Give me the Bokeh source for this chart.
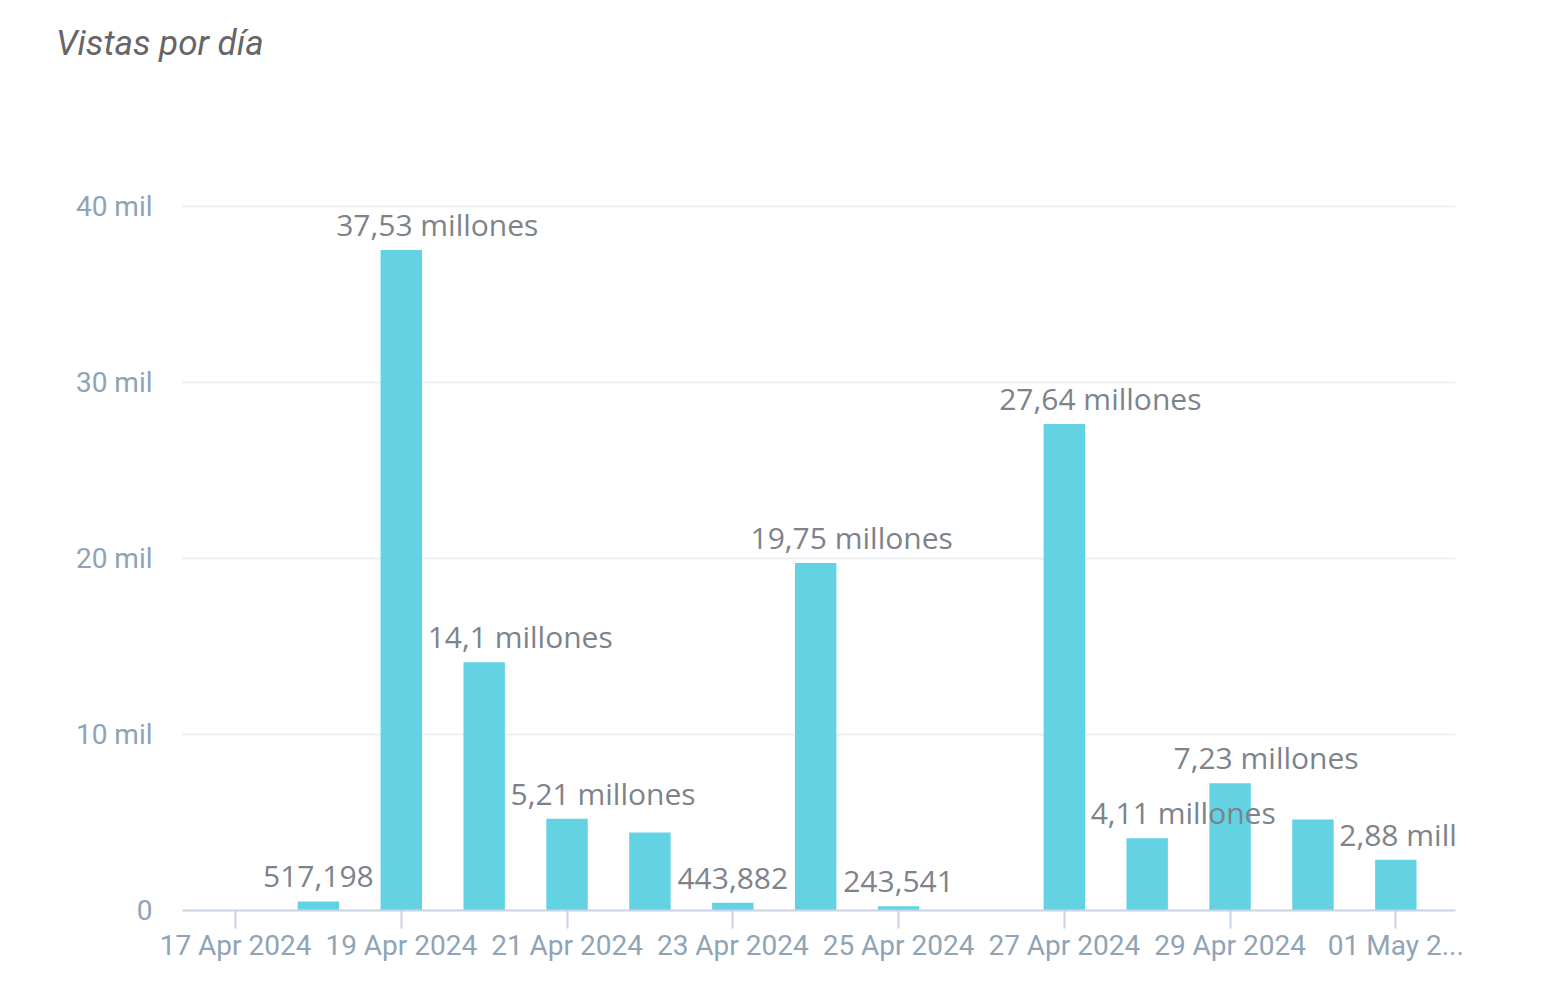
from bokeh.plotting import figure
from bokeh.layouts import column
from bokeh.models import ColumnDataSource, LabelSet, Range1d, FixedTicker, Div
from bokeh.core.properties import value
from bokeh.embed import file_html
from bokeh.resources import INLINE

# ---- data ----
dates = ["17 Apr 2024", "18 Apr 2024", "19 Apr 2024", "20 Apr 2024", "21 Apr 2024",
         "22 Apr 2024", "23 Apr 2024", "24 Apr 2024", "25 Apr 2024", "26 Apr 2024",
         "27 Apr 2024", "28 Apr 2024", "29 Apr 2024", "30 Apr 2024", "01 May 2024"]
views = [0, 517198, 37530000, 14100000, 5210000,
         4430000, 443882, 19750000, 243541, 0,
         27640000, 4110000, 7230000, 5170000, 2880000]
labeled = [False, True, True, True, True,
           False, True, True, True, False,
           True, True, True, False, True]
x_tick_labels = ["17 Apr 2024", "19 Apr 2024", "21 Apr 2024", "23 Apr 2024",
                 "25 Apr 2024", "27 Apr 2024", "29 Apr 2024", "01 May 2..."]
y_ticks = [0, 10, 20, 30, 40]
y_tick_labels = ["0", "10 mil", "20 mil", "30 mil", "40 mil"]
title_text = "Vistas por día"


def fmt(v):
    if v >= 1_000_000:
        s = f"{v / 1e6:.2f}".rstrip("0").rstrip(".")
        return s.replace(".", ",") + " millones"
    return f"{v:,}"


xs = list(range(len(dates)))
ys = [v / 1e6 for v in views]

bar_src = ColumnDataSource(dict(x=xs, y=ys, date=dates))
lab_x, lab_y, lab_t, lab_off = [], [], [], []
for x, y, v, show in zip(xs, ys, views, labeled):
    if show:
        t = fmt(v)
        lab_x.append(x)
        lab_y.append(y)
        lab_t.append(t)
        lab_off.append(36 if "millones" in t else 0)
lab_src = ColumnDataSource(dict(x=lab_x, y=lab_y, t=lab_t, off=lab_off))

# ---- title ----
TITLE_H = 80
title = Div(text=title_text, width=1475, height=TITLE_H, margin=(0, 0, 0, 0),
            styles={"font-family": "Roboto", "font-style": "italic", "font-size": "35px",
                    "color": "#666666", "padding-left": "56px", "padding-top": "24px",
                    "line-height": "40px"})

# ---- figure ----
p = figure(width=1475, height=980 - TITLE_H, output_backend="svg", toolbar_location=None,
           x_range=Range1d(-0.64, 14.72), y_range=Range1d(0, 45),
           min_border_left=182, min_border_right=20, min_border_top=118 - TITLE_H,
           min_border_bottom=70, margin=(0, 0, 0, 0))
p.outline_line_color = None
p.background_fill_color = "white"
p.border_fill_color = "white"

p.vbar(x="x", top="y", width=0.5, source=bar_src, fill_color="#63d3e4", line_color=None)

labels = LabelSet(x="x", y="y", text="t", source=lab_src, x_offset="off", y_offset=14,
                  text_align="center", text_baseline="alphabetic",
                  text_font=value("Open Sans"), text_font_size="30px", text_color="#7d838b")
p.add_layout(labels)

# grid
p.xgrid.visible = False
p.ygrid.ticker = FixedTicker(ticks=y_ticks)
p.ygrid.grid_line_color = "#eceff2"
p.ygrid.grid_line_width = 2

# y axis
p.yaxis.ticker = FixedTicker(ticks=y_ticks)
p.yaxis.major_label_overrides = {t: l for t, l in zip(y_ticks, y_tick_labels)}
p.yaxis.axis_line_color = None
p.yaxis.major_tick_line_color = None
p.yaxis.minor_tick_line_color = None
p.yaxis.major_tick_out = 0
p.yaxis.major_tick_in = 0
p.yaxis.major_label_standoff = 30
p.yaxis.major_label_text_font = "Roboto"
p.yaxis.major_label_text_font_size = "28px"
p.yaxis.major_label_text_color = "#8fa4b6"

# x axis
x_ticks = xs[::2]
p.xaxis.ticker = FixedTicker(ticks=x_ticks)
p.xaxis.major_label_overrides = {t: l for t, l in zip(x_ticks, x_tick_labels)}
p.xaxis.axis_line_color = "#c9d3e3"
p.xaxis.axis_line_width = 2
p.xaxis.major_tick_line_color = "#c9d3e3"
p.xaxis.major_tick_line_width = 2
p.xaxis.major_tick_out = 18
p.xaxis.major_tick_in = 0
p.xaxis.minor_tick_line_color = None
p.xaxis.major_label_standoff = 0
p.xaxis.major_label_text_font = "Roboto"
p.xaxis.major_label_text_font_size = "28px"
p.xaxis.major_label_text_color = "#8fa4b6"

layout = column(title, p, spacing=0)
open("out.html", "w").write(file_html(layout, INLINE))
